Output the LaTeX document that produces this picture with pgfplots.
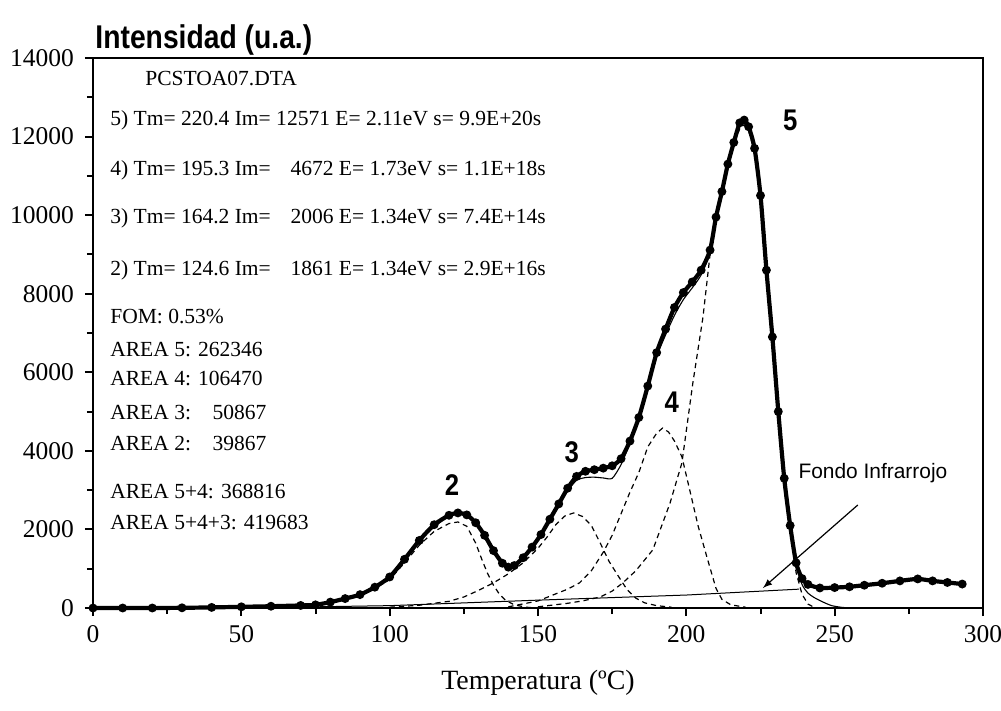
\documentclass[border=0pt]{standalone}
\usepackage{pgfplots}
\pgfplotsset{compat=1.18}
\usepackage{fontspec}
\setmainfont{Liberation Serif}
\newfontfamily\arialfont{Liberation Sans}
\newfontfamily\arialbold[FakeStretch=0.86]{Liberation Sans Bold}

\pgfplotstableread{
T I
0 0
10 0
20 0
30 5
40 15
50 30
60 45
70 65
75 80
80 150
85 240
90 340
95 530
100 790
105 1240
110 1720
115 2120
120 2360
123 2420
126 2370
129 2170
132 1850
135 1460
138 1140
140 1040
142 1080
145 1280
148 1550
151 1870
154 2260
157 2650
160 3050
163 3350
166 3480
169 3520
172 3560
175 3620
178 3800
181 4250
184 4850
187 5650
190 6500
193 7100
196 7650
199 8030
202 8300
205 8600
208 9110
210 9950
212 10600
214 11300
216 11850
218 12350
219.5 12420
221 12250
223 11700
225 10500
227 8600
229 6900
231 5000
233 3300
235 2100
237 1150
239 750
241 600
245 510
250 520
255 540
260 580
266 630
272 690
278 740
283 690
288 650
293 610
}\exptable

\pgfplotstableread{
T I
0 0
30 5
50 30
70 65
80 150
90 340
100 790
110 1720
120 2360
123 2420
126 2370
132 1850
138 1140
140 1040
145 1280
151 1870
157 2620
160 2980
163 3250
166 3320
169 3330
172 3310
175 3300
178 3650
181 4200
184 4850
187 5600
190 6400
193 6950
196 7450
199 7850
202 8150
205 8480
208 9050
210 9950
212 10600
214 11300
216 11850
218 12350
219.5 12420
221 12250
223 11700
225 10500
227 8600
229 6900
231 5000
233 3300
235 2100
237 1150
239 600
241 380
243 270
245 190
247 120
249 60
252 20
255 0
}\fittable

\pgfplotstableread{
T I
60 10
70 40
80 130
90 330
95 500
100 720
105 1150
110 1600
115 1950
120 2150
123 2190
126 2080
129 1650
131 1250
133 880
135 580
137 350
139 200
142 80
146 20
150 0
}\peaktwo

\pgfplotstableread{
T I
100 20
110 70
120 170
125 280
130 450
135 640
140 870
145 1150
150 1520
153 1800
156 2120
159 2340
162 2420
165 2330
168 2100
171 1650
174 1180
177 820
180 470
183 250
186 130
190 60
195 20
}\peakthree

\pgfplotstableread{
T I
140 30
150 180
155 330
160 480
164 640
168 950
172 1420
175 1850
178 2400
181 2950
184 3450
187 4100
190 4450
192 4580
194 4480
196 4250
198.5 3850
201 3050
204 2080
207 1280
210 500
212 220
215 80
220 20
}\peakfour

\pgfplotstableread{
T I
150 30
160 120
165 180
171 280
175 430
178.6 640
183 950
188.7 1480
194.5 2670
198.5 3690
202.2 5730
205.6 7400
208 9000
210 9850
212 10550
214 11250
216 11800
218 12200
219.5 12300
221 12150
223 11600
225 10450
227 8550
229 6850
231 4950
233 3250
235 2000
237 900
239 350
241 100
243 20
}\peakfive

\pgfplotstableread{
T I
50 0
100 60
150 200
200 330
238 480
}\fondo

\begin{document}
\begin{tikzpicture}
\begin{axis}[
  scale only axis,
  width=445bp, height=275bp,
  xmin=0, xmax=300, ymin=0, ymax=14000,
  axis line style={line width=1.1bp},
  tick pos=left,
  tick align=outside,
  xtick={0,50,...,300},
  ytick={0,2000,...,14000},
  minor tick num=1,
  major tick length=4bp,
  minor tick length=3bp,
  every tick/.style={line width=1bp, black},
  /pgf/number format/assume math mode=true,
  scaled y ticks=false,
  yticklabel style={/pgf/number format/1000 sep={}, font=\fontsize{12.8}{14}\selectfont, xshift=-2bp},
  xticklabel style={font=\fontsize{12.8}{14}\selectfont, yshift=-1bp},
  clip=false,
]
\addplot[black, line width=0.5bp] table[x=T, y=I] {\fondo};
\addplot[black, line width=0.6bp, dash pattern=on 2.6bp off 2bp] table[x=T, y=I] {\peaktwo};
\addplot[black, line width=0.6bp, dash pattern=on 2.6bp off 2bp] table[x=T, y=I] {\peakthree};
\addplot[black, line width=0.6bp, dash pattern=on 2.6bp off 2bp] table[x=T, y=I] {\peakfour};
\addplot[black, line width=0.6bp, dash pattern=on 2.6bp off 2bp] table[x=T, y=I] {\peakfive};
\addplot[black, line width=2.1bp, smooth, tension=0.4, mark=*, mark size=1.1bp, mark options={solid}] table[x=T, y=I] {\exptable};
\addplot[black, line width=0.55bp, smooth, tension=0.4] table[x=T, y=I] {\fittable};

\begin{scope}[every node/.style={anchor=west, inner sep=0pt, font=\fontsize{10.8}{12}\selectfont}]
\node at (axis cs:17.5,13490) {PCSTOA07.DTA};
\node at (axis cs:5.7,12420) {5) Tm= 220.4 Im= 12571 E= 2.11eV s= 9.9E+20s};
\node at (axis cs:5.7,11148) {4) Tm= 195.3 Im= \phantom{1}\,4672 E= 1.73eV s= 1.1E+18s};
\node at (axis cs:5.7,9926) {3) Tm= 164.2 Im= \phantom{1}\,2006 E= 1.34eV s= 7.4E+14s};
\node at (axis cs:5.7,8603) {2) Tm= 124.6 Im= \phantom{1}\,1861 E= 1.34eV s= 2.9E+16s};
\node at (axis cs:5.7,7432) {FOM: 0.53\%};
\node at (axis cs:5.7,6567) {AREA 5: 262346};
\node at (axis cs:5.7,5854) {AREA 4: 106470};
\node at (axis cs:5.7,4989) {AREA 3: \phantom{1}\,50867};
\node at (axis cs:5.7,4200) {AREA 2: \phantom{1}\,39867};
\node at (axis cs:5.7,2978) {AREA 5+4: 368816};
\node at (axis cs:5.7,2189) {AREA 5+4+3: 419683};
\end{scope}

\begin{scope}[every node/.style={inner sep=0pt, font=\arialbold\fontsize{15}{17}\selectfont}]
\node at (axis cs:121,3130) {2};
\node at (axis cs:161.4,3970) {3};
\node at (axis cs:195.1,5243) {4};
\node at (axis cs:235,12420) {5};
\end{scope}

\node[inner sep=0pt, font=\arialfont\fontsize{10.5}{12}\selectfont] at (axis cs:262.9,3436) {Fondo Infrarrojo};
\draw[-latex, line width=0.6bp] (axis cs:257.8,2622) -- (axis cs:225.8,509);

\node[anchor=west, inner sep=0pt, font=\arialbold\fontsize{16.5}{18}\selectfont] at (axis cs:0.7,14460) {Intensidad (u.a.)};
\node[inner sep=0pt, font=\fontsize{14}{16}\selectfont] at (axis cs:150,-1910) {Temperatura (ºC)};
\end{axis}
\pgfresetboundingbox
\path (current axis.south west) ++(-46.5bp,-51.5bp) rectangle ++(500.5bp,355.5bp);
\end{tikzpicture}
\end{document}
